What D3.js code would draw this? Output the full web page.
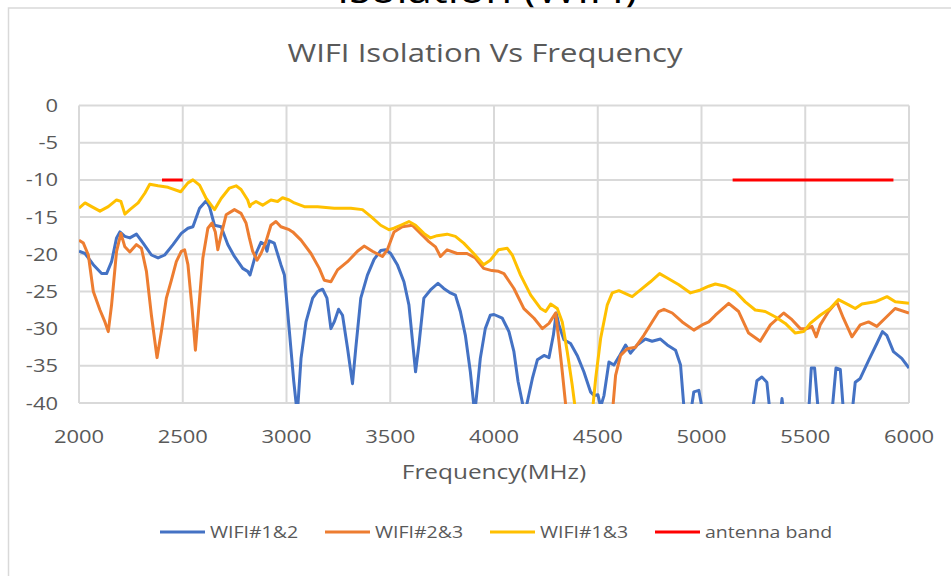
<!DOCTYPE html>
<html>
<head>
<meta charset="utf-8">
<script src="https://cdn.jsdelivr.net/npm/d3@7"></script>
<style>
  body { margin: 0; background: #fff; }
  text { font-family: "Open Sans", "Noto Sans", sans-serif; fill: #595959; }
</style>
</head>
<body>
<script>
// WIFI#1&2 (blue)
var freq12 = [2000,2029,2069,2109,2133,2157,2181,2197,2221,2245,2277,2309,2349,2381,2413,2453,2493,2525,2549,2581,2613,2629,2653,2685,2717,2749,2789,2813,2824,2853,2877,2896,2906,2917,2941,2973,2990,3014,3035,3052,3070,3094,3126,3150,3174,3195,3214,3230,3251,3270,3294,3318,3334,3358,3390,3422,3454,3478,3502,3534,3566,3590,3606,3622,3638,3662,3694,3730,3758,3790,3814,3838,3862,3886,3907,3934,3958,3982,4000,4040,4072,4096,4116,4148,4185,4209,4241,4265,4286,4300,4313,4337,4369,4401,4433,4465,4482,4501,4514,4530,4554,4578,4602,4634,4658,4690,4730,4762,4802,4835,4875,4899,4918,4947,4963,4987,5008,5100,5243,5267,5291,5315,5331,5380,5388,5396,5516,5529,5545,5564,5628,5648,5669,5685,5725,5741,5765,5805,5845,5872,5893,5925,5965,6000];
var db12 = [-19.6,-19.9,-21.4,-22.6,-22.6,-21.0,-17.8,-17.0,-17.6,-17.8,-17.3,-18.5,-20.1,-20.5,-20.1,-18.7,-17.2,-16.5,-16.3,-13.8,-12.8,-13.6,-16.1,-16.3,-18.7,-20.3,-21.9,-22.3,-22.8,-19.9,-18.4,-18.7,-19.6,-18.2,-18.5,-21.4,-22.8,-30.4,-37.1,-41.5,-34.0,-29.1,-25.9,-25.0,-24.7,-25.9,-30.0,-29.1,-27.4,-28.2,-32.6,-37.4,-32.6,-25.9,-22.8,-20.7,-19.5,-19.4,-19.9,-21.4,-23.7,-26.8,-31.3,-35.8,-32.2,-25.9,-24.8,-23.9,-24.6,-25.2,-25.5,-27.7,-30.9,-35.8,-41.5,-34.0,-30.0,-28.2,-28.1,-28.6,-30.4,-33.1,-37.1,-41.5,-36.7,-34.2,-33.6,-33.9,-30.9,-27.9,-29.5,-31.5,-32.0,-33.6,-35.8,-38.5,-39.0,-38.9,-40.5,-39.0,-34.5,-34.9,-33.8,-32.2,-33.3,-32.2,-31.4,-31.7,-31.4,-32.2,-32.9,-34.9,-41.5,-41.5,-38.5,-38.3,-41.5,-42,-41.5,-37.0,-36.5,-37.2,-41.5,-41.5,-39.4,-41.5,-41.5,-35.3,-35.3,-41.5,-41.5,-35.3,-35.5,-41.5,-41.5,-37.2,-36.7,-34.3,-32.0,-30.4,-30.9,-33.1,-34.0,-35.3];

// WIFI#2&3 (orange)
var freq23 = [2000,2021,2045,2069,2101,2125,2141,2157,2181,2202,2221,2245,2277,2301,2325,2349,2376,2397,2421,2445,2469,2493,2509,2525,2545,2561,2577,2597,2621,2641,2657,2669,2685,2709,2749,2781,2805,2821,2837,2858,2877,2901,2925,2949,2973,3013,3030,3070,3118,3158,3182,3214,3246,3294,3342,3374,3414,3462,3486,3518,3558,3606,3646,3686,3718,3742,3774,3822,3870,3910,3950,3990,4022,4048,4096,4144,4193,4233,4265,4297,4313,4329,4350,4460,4570,4586,4610,4642,4682,4722,4762,4794,4819,4859,4907,4963,5003,5035,5067,5131,5179,5227,5283,5332,5396,5436,5476,5508,5532,5553,5572,5612,5652,5684,5725,5765,5805,5845,5885,5933,6000];
var db23 = [-18.1,-18.5,-20.1,-25.0,-27.5,-29.1,-30.4,-26.8,-19.6,-17.2,-19.0,-19.7,-18.7,-19.2,-22.3,-28.2,-33.9,-30.4,-25.9,-23.5,-21.0,-19.6,-19.4,-21.4,-27.3,-32.9,-27.3,-20.5,-16.5,-15.8,-17.0,-19.4,-17.4,-14.7,-14.0,-14.5,-15.8,-17.8,-19.6,-20.8,-19.9,-18.3,-16.1,-15.6,-16.3,-16.7,-17.0,-18.1,-19.9,-21.9,-23.5,-23.7,-22.1,-21.0,-19.6,-18.9,-19.6,-20.3,-19.4,-17.0,-16.3,-16.1,-17.2,-18.3,-19.0,-20.3,-19.4,-19.9,-19.9,-20.5,-21.9,-22.2,-22.3,-22.6,-24.6,-27.3,-28.6,-30.0,-29.3,-27.9,-31.7,-35.8,-41.5,-42,-41.5,-36.3,-33.6,-32.7,-32.5,-30.9,-29.1,-27.7,-27.4,-27.9,-29.1,-30.2,-29.5,-29.1,-28.2,-26.6,-27.7,-30.6,-31.7,-29.5,-27.9,-28.8,-30.0,-30.0,-29.7,-31.1,-29.5,-27.7,-26.4,-28.6,-31.1,-29.5,-29.1,-29.7,-28.6,-27.3,-27.9];

// WIFI#1&3 (yellow)
var freq13 = [2000,2029,2061,2101,2141,2181,2202,2221,2245,2285,2317,2341,2381,2429,2490,2525,2549,2581,2613,2653,2685,2725,2757,2781,2813,2823,2829,2853,2885,2925,2957,2981,3013,3038,3086,3150,3230,3310,3366,3406,3454,3494,3518,3550,3590,3622,3662,3694,3726,3774,3814,3854,3902,3950,3982,4022,4064,4088,4128,4177,4225,4249,4273,4305,4329,4353,4377,4395,4430,4473,4490,4514,4546,4570,4602,4634,4666,4706,4754,4798,4835,4891,4947,4995,5035,5067,5115,5163,5211,5259,5307,5355,5404,5452,5492,5524,5572,5620,5660,5709,5741,5773,5837,5894,5934,6000];
var db13 = [-13.8,-13.1,-13.6,-14.2,-13.6,-12.7,-12.9,-14.6,-14.0,-13.1,-11.8,-10.6,-10.8,-11.0,-11.6,-10.4,-10.0,-10.7,-12.5,-14.0,-12.5,-11.1,-10.8,-11.3,-12.7,-13.6,-13.3,-12.9,-13.4,-12.7,-12.9,-12.4,-12.7,-13.1,-13.6,-13.6,-13.8,-13.8,-14.0,-14.9,-16.1,-16.7,-16.5,-16.1,-15.6,-16.1,-17.2,-17.8,-17.5,-17.3,-17.6,-18.5,-19.9,-21.4,-20.8,-19.4,-19.2,-20.1,-22.8,-25.5,-27.3,-27.7,-26.7,-27.3,-29.1,-33.1,-37.6,-41.5,-42,-41.5,-36.7,-31.3,-26.8,-25.2,-24.9,-25.3,-25.7,-24.8,-23.7,-22.6,-23.2,-24.1,-25.2,-24.8,-24.3,-24.0,-24.3,-25.0,-26.4,-27.5,-27.7,-28.4,-29.3,-30.6,-30.4,-29.3,-28.2,-27.3,-26.1,-26.8,-27.3,-26.7,-26.4,-25.7,-26.4,-26.6];

// antenna band (red)
var bandLow = [2400, 2500];
var bandHigh = [5150, 5925];
var bandLevel = -10;

var xTicks = [2000,2500,3000,3500,4000,4500,5000,5500,6000];
var yTicks = [0,-5,-10,-15,-20,-25,-30,-35,-40];

var series = [
  {name: "WIFI#1&2", color: "#4472C4", freq: freq12, db: db12},
  {name: "WIFI#2&3", color: "#ED7D31", freq: freq23, db: db23},
  {name: "WIFI#1&3", color: "#FFC000", freq: freq13, db: db13}
];
var bandColor = "#FF0000";

var W = 951, H = 576;
var svg = d3.select("body").append("svg").attr("width", W).attr("height", H);

// stretched text helper (the source picture is widened)
var SX = 1.22;
function label(g, x, y, str, size, anchor, color) {
  return g.append("text")
      .attr("transform", "translate(" + x + "," + y + ") scale(" + SX + ",1)")
      .attr("text-anchor", anchor)
      .style("font-size", size + "px")
      .style("fill", color || "#595959")
      .text(str);
}

// cut-off heading above the chart box
label(svg, 487, 3, "Isolation (WIFI)", 36, "middle", "#000");

// chart box
svg.append("rect")
    .attr("x", 8.5).attr("y", 8)
    .attr("width", 980).attr("height", 620)
    .attr("fill", "#fff").attr("stroke", "#d9d9d9").attr("stroke-width", 1.5);

label(svg, 485, 62, "WIFI Isolation Vs Frequency", 25.5, "middle");

var x = d3.scaleLinear().domain([2000, 6000]).range([79, 909]);
var y = d3.scaleLinear().domain([-40, 0]).range([403, 105.5]);

// grid
var grid = svg.append("g");
grid.selectAll(".h").data(yTicks).enter().append("line")
    .attr("x1", x(2000)).attr("x2", x(6000))
    .attr("y1", d => y(d)).attr("y2", d => y(d))
    .attr("stroke", "#d9d9d9").attr("stroke-width", 2);
grid.selectAll(".v").data(xTicks).enter().append("line")
    .attr("y1", y(0)).attr("y2", y(-40))
    .attr("x1", d => x(d)).attr("x2", d => x(d))
    .attr("stroke", "#d9d9d9").attr("stroke-width", 2);

// axis labels
yTicks.forEach(function(t) { label(svg, 58, y(t) + 6.5, t, 18, "end"); });
xTicks.forEach(function(t) { label(svg, x(t), 443, t, 18, "middle"); });
label(svg, 494, 479, "Frequency(MHz)", 20, "middle");

// clip
svg.append("clipPath").attr("id", "plotclip").append("rect")
    .attr("x", x(2000)).attr("y", y(0) - 5)
    .attr("width", x(6000) - x(2000)).attr("height", y(-40) - y(0) + 6);

var line = d3.line().x(d => x(d[0])).y(d => y(d[1]));
var plot = svg.append("g").attr("clip-path", "url(#plotclip)");

series.forEach(function(s) {
  plot.append("path")
      .datum(d3.zip(s.freq, s.db))
      .attr("fill", "none")
      .attr("stroke", s.color)
      .attr("stroke-width", 3)
      .attr("stroke-linejoin", "round")
      .attr("d", line);
});

[bandLow, bandHigh].forEach(function(b) {
  plot.append("path")
      .datum(b.map(f => [f, bandLevel]))
      .attr("fill", "none")
      .attr("stroke", bandColor)
      .attr("stroke-width", 3)
      .attr("d", line);
});

// legend
var legendItems = series.map(s => ({name: s.name, color: s.color}))
    .concat([{name: "antenna band", color: bandColor}]);
var legendX = [160, 325, 490, 655];
legendItems.forEach(function(d, i) {
  svg.append("line")
      .attr("x1", legendX[i]).attr("x2", legendX[i] + 45)
      .attr("y1", 532).attr("y2", 532)
      .attr("stroke", d.color).attr("stroke-width", 3);
  label(svg, legendX[i] + 50, 538, d.name, 16, "start");
});
</script>
</body>
</html>
